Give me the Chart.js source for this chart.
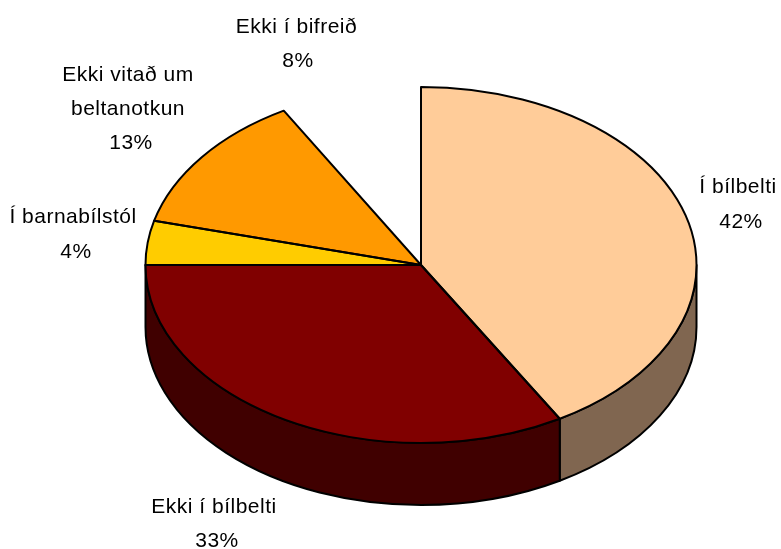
<!DOCTYPE html>
<html>
<head>
<meta charset="utf-8">
<style>html,body{margin:0;padding:0;background:#fff}canvas{display:block}</style>
<script src="https://cdn.jsdelivr.net/npm/chart.js@4/dist/chart.umd.min.js"></script>
</head>
<body>
<canvas id="c" width="781" height="549"></canvas>
<script>
const categories = ["Í bílbelti", "Ekki í bílbelti", "Í barnabílstól", "Ekki vitað um\nbeltanotkun", "Ekki í bifreið"];
const values = [41.6, 33.4, 4, 12.7, 8.3];
const topColors = ["#FFCC99", "#800000", "#FFCC00", "#FF9900", "rgba(0,0,0,0)"];
const wallColors = ["#806650", "#400000", "#806600", "#804D00", "rgba(0,0,0,0)"];
const outlined = [true, true, true, true, false];

const CX = 421, CY = 265, RX = 275.5, RY = 178, DEPTH = 62, LINE = 2;
// text anchors: centre x and baseline of each label line
const labelPos = [
  [[738, 193], [741, 228]],
  [[214, 513], [217, 547]],
  [[73, 223], [76, 258]],
  [[128, 81], [128, 115], [131, 149]],
  [[296.5, 33], [298, 67]]
];

const pie3d = {
  id: "pie3d",
  beforeDatasetsDraw(chart) {
    const ctx = chart.ctx;
    ctx.save();
    ctx.lineWidth = LINE; ctx.strokeStyle = "#000"; ctx.lineJoin = "round";
    chart.getDatasetMeta(0).data.forEach((el, i) => {
      if (!outlined[i]) return;
      const a0 = Math.max(el.startAngle, 0), a1 = Math.min(el.endAngle, Math.PI);
      if (a1 <= a0) return;
      ctx.beginPath();
      ctx.ellipse(CX, CY, RX, RY, 0, a0, a1);
      ctx.ellipse(CX, CY + DEPTH, RX, RY, 0, a1, a0, true);
      ctx.closePath();
      ctx.fillStyle = wallColors[i];
      ctx.fill(); ctx.stroke();
    });
    ctx.restore();
  },
  beforeDatasetDraw(chart, args) {
    const ctx = chart.ctx, el = args.meta.data[0];
    ctx.save();
    ctx.translate(CX, CY);
    ctx.scale(RX / el.outerRadius, RY / el.outerRadius);
    ctx.translate(-el.x, -el.y);
  },
  afterDatasetDraw(chart, args) {
    const ctx = chart.ctx;
    ctx.restore();
    ctx.save();
    ctx.lineWidth = LINE; ctx.strokeStyle = "#000"; ctx.lineJoin = "round";
    args.meta.data.forEach((el, i) => {
      if (!outlined[i]) return;
      ctx.beginPath();
      ctx.moveTo(CX, CY);
      ctx.ellipse(CX, CY, RX, RY, 0, el.startAngle, el.endAngle);
      ctx.closePath();
      ctx.stroke();
    });
    ctx.restore();
  },
  afterDraw(chart) {
    const ctx = chart.ctx;
    ctx.save();
    ctx.fillStyle = "#000";
    ctx.font = "21px 'Liberation Sans'";
    ctx.letterSpacing = "0.5px";
    ctx.textAlign = "center";
    ctx.textBaseline = "alphabetic";
    categories.forEach((name, i) => {
      const lines = name.split("\n").concat(Math.round(values[i]) + "%");
      lines.forEach((t, j) => ctx.fillText(t, labelPos[i][j][0], labelPos[i][j][1]));
    });
    ctx.restore();
  }
};

new Chart(document.getElementById("c"), {
  type: "pie",
  data: { labels: categories, datasets: [{ data: values, backgroundColor: topColors, borderWidth: 0, clip: false }] },
  options: {
    responsive: false, animation: false,
    layout: { padding: 0 },
    plugins: { legend: { display: false }, tooltip: { enabled: false }, title: { display: false } }
  },
  plugins: [pie3d]
});
</script>
</body>
</html>
